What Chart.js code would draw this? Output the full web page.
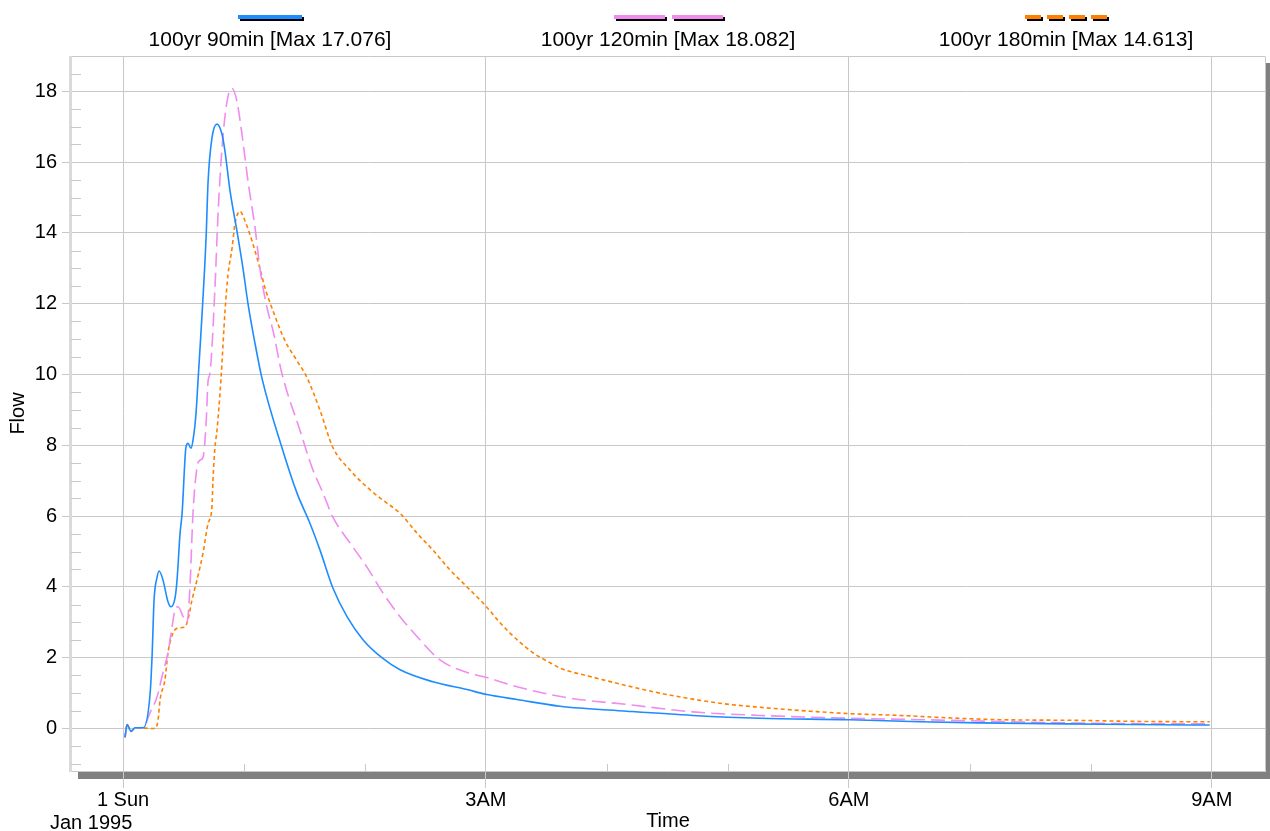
<!DOCTYPE html>
<html>
<head>
<meta charset="utf-8">
<script src="https://cdn.jsdelivr.net/npm/chart.js@4.4.1/dist/chart.umd.min.js"></script>
<style>
  html, body { margin: 0; padding: 0; background: #fff; }
  canvas { display: block; }
</style>
</head>
<body>
<canvas id="flow" width="1270" height="831"></canvas>
<script>
const seriesNames = ['100yr 90min [Max 17.076]', '100yr 120min [Max 18.082]', '100yr 180min [Max 14.613]']
const seriesColors = ['#1e8cff', '#f08cf0', '#ff8000']

// minutes after midnight, 1 Jan 1995
const mins90 = [1, 2, 4, 6, 10, 13.4, 14.4, 15.4, 16.9, 17.9, 19.8, 22.3, 23.8, 25.8, 26.8, 28.3, 29.3, 31.2, 32.2, 33.7, 34.7, 36.2, 37.2, 39.2, 41.2, 42.2, 44.1, 46.6, 49.1, 50.6, 53.1, 56.5, 59.5, 62, 65.5, 68.9, 78.8, 86.3, 92.7, 97.7, 104.1, 111.1, 119, 128.4, 137.4, 153.7, 170.6, 180.5, 195.4, 216.7, 249.9, 282.6, 315.9, 360.5, 395.2, 425, 469.6, 529.1, 539]
const flow90 = [-0.25, 0.11, -0.08, 0.02, 0.02, 0.96, 2.03, 3.63, 4.28, 4.45, 4.2, 3.58, 3.44, 3.69, 4.2, 5.52, 6.08, 7.94, 8.06, 7.92, 8.14, 8.9, 9.83, 11.7, 13.87, 15.46, 16.68, 17.076, 16.79, 16.3, 15.18, 14.06, 13.0, 12.0, 10.87, 9.9, 7.94, 6.65, 5.8, 5.04, 3.97, 3.16, 2.51, 2.0, 1.66, 1.32, 1.1, 0.96, 0.82, 0.63, 0.49, 0.37, 0.29, 0.25, 0.19, 0.16, 0.13, 0.1, 0.1]

const mins120 = [1, 2, 4, 6, 10, 13.4, 16.9, 19.8, 22.3, 24.3, 25.8, 27.3, 29.8, 31.7, 33.2, 34.7, 36.7, 38.2, 39.7, 41.2, 42.2, 43.1, 45.6, 47.1, 49.1, 51.6, 54.1, 56.5, 59, 62, 65.5, 67.9, 71.4, 74.4, 78.8, 87.8, 93.7, 99.2, 104.1, 112.6, 121, 128.9, 137.4, 145.8, 157.2, 170.6, 180.5, 195.4, 220.2, 249.9, 282.6, 315.9, 360.5, 395.2, 427, 468, 529.1, 539]
const flow120 = [-0.25, 0.11, -0.08, 0.02, 0.03, 0.45, 0.9, 1.58, 2.14, 2.87, 3.35, 3.44, 3.16, 2.99, 4.0, 6.08, 7.38, 7.58, 7.66, 8.62, 9.83, 10.03, 12.45, 14.5, 16.4, 17.72, 18.082, 17.72, 16.79, 15.46, 14.14, 13.0, 11.89, 11.24, 10.03, 8.42, 7.38, 6.65, 5.97, 5.24, 4.56, 3.83, 3.16, 2.6, 1.94, 1.58, 1.44, 1.18, 0.87, 0.68, 0.47, 0.37, 0.29, 0.25, 0.21, 0.16, 0.13, 0.13]

const mins180 = [1, 2, 4, 6, 15.9, 17.4, 18.4, 20.8, 22.3, 24.8, 27.3, 30.7, 32.2, 34.2, 36.7, 39.7, 42.2, 44.1, 44.6, 45.6, 46.6, 48.6, 50.6, 52.1, 54.1, 55.5, 58, 60.5, 64, 67.9, 70.4, 74.4, 80.3, 86.3, 91.2, 97.7, 104.1, 112.6, 121, 128.9, 137.4, 145.8, 153.7, 162.2, 170.6, 179.5, 187, 195.4, 203.3, 211.8, 216.7, 233.1, 249.9, 266.3, 282.6, 299.5, 315.9, 340.7, 360.5, 385.3, 410.1, 434.9, 473.1, 504.3, 539]
const flow180 = [-0.25, 0.11, -0.08, 0.02, 0.0, 0.25, 0.82, 1.38, 2.14, 2.7, 2.84, 2.87, 3.07, 3.63, 4.2, 4.96, 5.8, 6.25, 7.0, 7.94, 8.42, 9.88, 11.8, 12.83, 13.58, 14.25, 14.613, 14.34, 13.77, 13.0, 12.45, 11.8, 10.96, 10.39, 9.92, 8.99, 7.94, 7.3, 6.82, 6.45, 6.08, 5.52, 5.04, 4.48, 4.0, 3.49, 2.99, 2.51, 2.14, 1.86, 1.71, 1.45, 1.21, 1.0, 0.83, 0.69, 0.6, 0.49, 0.42, 0.37, 0.3, 0.25, 0.23, 0.2, 0.19]

const xTickHours = [0, 3, 6, 9]
const xTickLabels = ['1 Sun', '3AM', '6AM', '9AM']
const dateLabel = 'Jan 1995'
const yTicks = [0, 2, 4, 6, 8, 10, 12, 14, 16, 18]

const FONT = '"Liberation Sans", Arial, sans-serif'
const GRID = '#c8c8c8'

function toPoints(mins, flows) {
    return mins.map((m, i) => ({ x: m / 60, y: flows[i] }))
}

// legend sample: total length and dash pattern per series
const legendSamples = [
    { len: 64, dash: [] },
    { len: 109, dash: [51, 7] },
    { len: 82, dash: [16, 6] }
]

const decor = {
    id: 'decor',
    beforeDraw(chart) {
        const { ctx, chartArea: a } = chart
        ctx.save()
        ctx.fillStyle = '#808080'
        ctx.fillRect(a.left + 7, a.bottom + 1, a.right - a.left, 7)
        ctx.fillRect(a.right + 1, a.top + 7, 5, a.bottom - a.top + 1)
        ctx.restore()
    },
    beforeDatasetsDraw(chart) {
        const { ctx, chartArea: a, scales: { x, y } } = chart
        ctx.save()
        ctx.strokeStyle = GRID
        ctx.lineWidth = 1
        ctx.beginPath()
        ctx.moveTo(a.left, a.top + 0.5)
        ctx.lineTo(a.right + 0.5, a.top + 0.5)
        ctx.lineTo(a.right + 0.5, a.bottom + 0.5)
        ctx.lineTo(a.left, a.bottom + 0.5)
        ctx.stroke()
        ctx.strokeStyle = '#dadada'
        ctx.lineWidth = 3
        ctx.beginPath()
        ctx.moveTo(a.left - 0.5, a.top)
        ctx.lineTo(a.left - 0.5, a.bottom + 1)
        ctx.stroke()

        // minor ticks
        ctx.strokeStyle = GRID
        ctx.lineWidth = 1
        ctx.beginPath()
        for (let v = -1; v <= 18.5; v += 0.5) {
            if (v % 2 === 0) continue
            const py = Math.round(y.getPixelForValue(v)) + 0.5
            ctx.moveTo(a.left, py)
            ctx.lineTo(a.left + 10, py)
        }
        for (let h = 1; h <= 9; h++) {
            if (h % 3 === 0) continue
            const px = Math.round(x.getPixelForValue(h)) + 0.5
            ctx.moveTo(px, a.bottom)
            ctx.lineTo(px, a.bottom - 7)
        }
        ctx.stroke()
        ctx.restore()
    },
    afterDraw(chart) {
        const { ctx, chartArea: a } = chart
        const sets = chart.data.datasets
        const colW = (a.right - a.left) / sets.length
        ctx.save()
        sets.forEach((ds, i) => {
            const cx = a.left + colW * (i + 0.5)
            const s = legendSamples[i]
            const x0 = Math.round(cx - s.len / 2)
            ctx.lineWidth = 4
            ctx.lineCap = 'butt'
            ctx.setLineDash(s.dash)
            ctx.strokeStyle = '#000'
            ctx.beginPath()
            ctx.moveTo(x0 + 2, 19)
            ctx.lineTo(x0 + 2 + s.len, 19)
            ctx.stroke()
            ctx.strokeStyle = ds.borderColor
            ctx.beginPath()
            ctx.moveTo(x0, 17)
            ctx.lineTo(x0 + s.len, 17)
            ctx.stroke()
            ctx.setLineDash([])
            ctx.fillStyle = '#000'
            ctx.font = '21px ' + FONT
            ctx.textAlign = 'center'
            ctx.textBaseline = 'alphabetic'
            ctx.fillText(ds.label, cx, 46)
        })
        ctx.font = '20px ' + FONT
        ctx.textAlign = 'left'
        ctx.fillText(dateLabel, 50, 829)
        ctx.restore()
    }
}

new Chart(document.getElementById('flow'), {
    type: 'line',
    data: {
        datasets: [
            { label: seriesNames[0], data: toPoints(mins90, flow90), borderColor: seriesColors[0], borderWidth: 1.6 },
            { label: seriesNames[1], data: toPoints(mins120, flow120), borderColor: seriesColors[1], borderWidth: 1.6, borderDash: [14, 6] },
            { label: seriesNames[2], data: toPoints(mins180, flow180), borderColor: seriesColors[2], borderWidth: 1.6, borderDash: [4, 3] }
        ]
    },
    options: {
        responsive: false,
        animation: false,
        devicePixelRatio: 1,
        layout: { padding: { top: 56, right: 5, left: 0, bottom: 0 } },
        elements: {
            point: { radius: 0 },
            line: { cubicInterpolationMode: 'monotone', fill: false }
        },
        plugins: {
            legend: { display: false },
            tooltip: { enabled: false }
        },
        scales: {
            x: {
                type: 'linear',
                min: -0.43,
                max: 9.44,
                afterFit: s => { s.height = 60 },
                afterBuildTicks: s => { s.ticks = xTickHours.map(v => ({ value: v })) },
                border: { display: false },
                grid: { color: GRID, tickLength: 17 },
                ticks: {
                    color: '#000',
                    font: { family: FONT, size: 20 },
                    padding: 0,
                    maxRotation: 0,
                    autoSkip: false,
                    callback: v => xTickLabels[xTickHours.indexOf(v)] || ''
                },
                title: {
                    display: true,
                    text: 'Time',
                    color: '#000',
                    font: { family: FONT, size: 20, lineHeight: 1 },
                    padding: { top: 0, bottom: 0 }
                }
            },
            y: {
                min: -1.2,
                max: 19.0,
                afterFit: s => { s.width = 71 },
                afterBuildTicks: s => { s.ticks = yTicks.map(v => ({ value: v })) },
                border: { display: false },
                grid: { color: GRID, tickLength: 9 },
                ticks: {
                    color: '#000',
                    font: { family: FONT, size: 20 },
                    padding: 5
                },
                title: {
                    display: true,
                    text: 'Flow',
                    color: '#000',
                    font: { family: FONT, size: 20, lineHeight: 1 },
                    padding: { top: 8, bottom: 0 }
                }
            }
        }
    },
    plugins: [decor]
})
</script>
</body>
</html>
